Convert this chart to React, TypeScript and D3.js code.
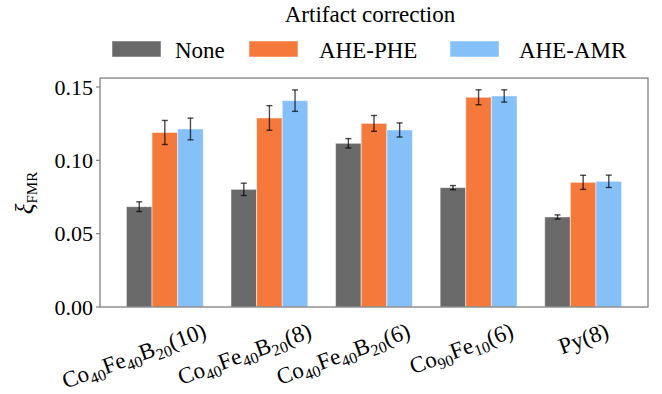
import React, { useRef, useEffect } from "react";
import { select, scaleLinear } from "d3";

// samples along x, three corrections per sample
const samples = ["CoFeB10", "CoFeB8", "CoFeB6", "CoFe6", "Py8"];
const series = ["None", "AHE-PHE", "AHE-AMR"];
const colors = ["#696969", "#f5793a", "#85c0f9"];

const noneVals = [0.0684, 0.0802, 0.1116, 0.0814, 0.0614];
const pheVals = [0.119, 0.1289, 0.1252, 0.143, 0.085];
const amrVals = [0.1214, 0.1407, 0.1207, 0.1439, 0.0857];

const noneErr = [0.0033, 0.0042, 0.0032, 0.0014, 0.0014];
const pheErr = [0.0082, 0.0084, 0.0054, 0.0051, 0.0048];
const amrErr = [0.0074, 0.0073, 0.0048, 0.0042, 0.0042];

const yTicks = [0, 0.05, 0.1, 0.15];

// label pieces: [text, isSubscript]
const labelParts: [string, boolean][][] = [
  [["Co", false], ["40", true], ["Fe", false], ["40", true], ["B", false], ["20", true], ["(10)", false]],
  [["Co", false], ["40", true], ["Fe", false], ["40", true], ["B", false], ["20", true], ["(8)", false]],
  [["Co", false], ["40", true], ["Fe", false], ["40", true], ["B", false], ["20", true], ["(6)", false]],
  [["Co", false], ["90", true], ["Fe", false], ["10", true], ["(6)", false]],
  [["Py(8)", false]],
];

const values = [noneVals, pheVals, amrVals];
const errors = [noneErr, pheErr, amrErr];

const ff = "Liberation Serif";

export default function App() {
  const svgRef = useRef<SVGSVGElement>(null);

  useEffect(() => {
    const svg = select(svgRef.current);
    svg.selectAll("*").remove();

    const left = 100, right = 648, bottom = 307;
    const x = scaleLinear().domain([-0.62, samples.length - 1 + 0.62]).range([left, right]);
    const y = scaleLinear().domain([0, 0.15]).range([bottom, 87]);
    const top = y(0.1561);
    const bw = 0.245;
    const unit = x(1) - x(0);
    const nudge = [43, 43.5, 37.7, 36.5, 27];
    const legendX = [112, 249, 450];
    const legendTextX = [175, 319, 519];

    svg.append("rect").attr("width", 662).attr("height", 394).attr("fill", "white");

    // legend
    svg.append("text").attr("x", 370).attr("y", 22).attr("font-size", 23)
      .attr("text-anchor", "middle").attr("font-family", ff).text("Artifact correction");
    series.forEach((s, i) => {
      svg.append("rect").attr("x", legendX[i]).attr("y", 41).attr("width", 49).attr("height", 16)
        .attr("fill", colors[i]).attr("stroke", "white").attr("stroke-opacity", 0.5);
      svg.append("text").attr("x", legendTextX[i]).attr("y", 58).attr("font-size", 23)
        .attr("font-family", ff).text(s);
    });

    // bars + error bars
    values.forEach((vals, si) => {
      const g = svg.append("g");
      g.selectAll("rect").data(vals).join("rect")
        .attr("x", (d, i) => x(i + (si - 1) * bw) - (bw * unit) / 2)
        .attr("y", (d) => y(d))
        .attr("width", bw * unit)
        .attr("height", (d) => bottom - y(d))
        .attr("fill", colors[si])
        .attr("stroke", "white").attr("stroke-opacity", 0.5);
    });
    values.forEach((vals, si) => {
      const g = svg.append("g").attr("stroke", "#000").attr("stroke-opacity", 0.7).attr("stroke-width", 1.4);
      vals.forEach((v, i) => {
        const cx = x(i + (si - 1) * bw);
        const e = errors[si][i];
        g.append("line").attr("x1", cx).attr("x2", cx).attr("y1", y(v - e)).attr("y2", y(v + e));
        g.append("line").attr("x1", cx - 3).attr("x2", cx + 3).attr("y1", y(v - e)).attr("y2", y(v - e));
        g.append("line").attr("x1", cx - 3).attr("x2", cx + 3).attr("y1", y(v + e)).attr("y2", y(v + e));
      });
    });

    // frame
    svg.append("rect").attr("x", left).attr("y", top).attr("width", right - left).attr("height", bottom - top)
      .attr("fill", "none").attr("stroke", "#808080").attr("stroke-width", 1.3);

    // y axis
    yTicks.forEach((t) => {
      svg.append("line").attr("x1", left - 4).attr("x2", left).attr("y1", y(t)).attr("y2", y(t))
        .attr("stroke", "#808080").attr("stroke-width", 1.2);
      svg.append("text").attr("x", 93).attr("y", y(t) + 7.5).attr("font-size", 22)
        .attr("text-anchor", "end").attr("font-family", ff).text(t.toFixed(2));
    });

    const yl = svg.append("text").attr("x", 33).attr("y", 193)
      .attr("transform", "rotate(-90, 33, 193)").attr("text-anchor", "middle")
      .attr("font-size", 25).attr("font-family", ff);
    yl.append("tspan").attr("font-style", "italic").text("\u03BE");
    yl.append("tspan").attr("font-size", 15).attr("dy", 4).text("FMR");

    // x labels
    samples.forEach((s, i) => {
      const ax = x(i) + nudge[i];
      const t = svg.append("text").attr("x", ax).attr("y", 337)
        .attr("transform", `rotate(-20, ${ax}, 337)`).attr("text-anchor", "end")
        .attr("font-size", 23).attr("font-family", ff);
      labelParts[i].forEach(([txt, sub], k) => {
        const prevSub = k > 0 && labelParts[i][k - 1][1];
        t.append("tspan").attr("font-size", sub ? 16 : 23)
          .attr("dy", sub ? 5 : prevSub ? -5 : 0).text(txt);
      });
    });
  }, []);

  return <svg ref={svgRef} width={662} height={394} style={{ position: "absolute", left: 0, top: 0 }} />;
}
